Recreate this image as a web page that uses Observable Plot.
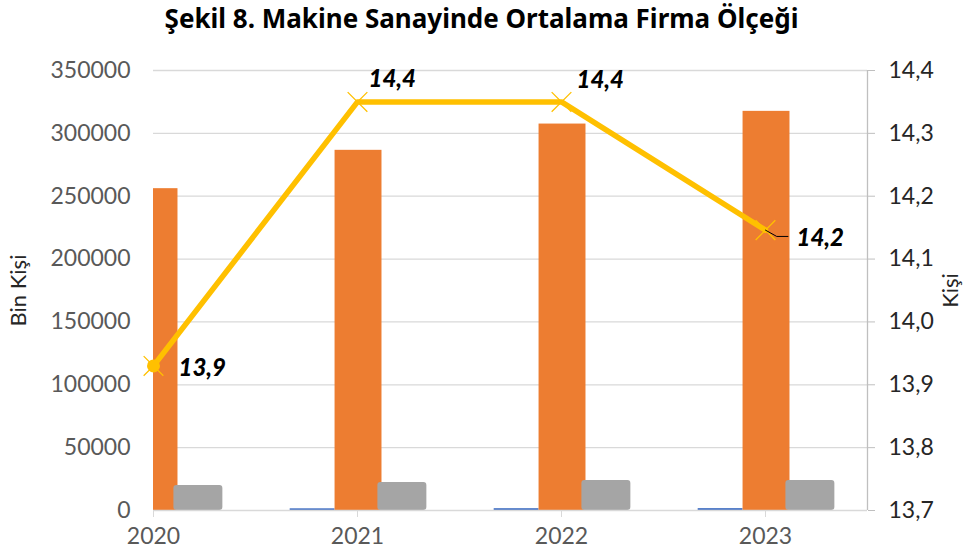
<!DOCTYPE html>
<html><head><meta charset="utf-8">
<script src="https://cdn.jsdelivr.net/npm/d3@7"></script>
<script src="https://cdn.jsdelivr.net/npm/@observablehq/plot@0.6"></script>
<style>
body{margin:0;background:#fff;font-family:Lato,sans-serif;}
#title{height:40px;line-height:36px;text-align:center;font-family:"Noto Sans",sans-serif;font-weight:bold;font-size:26px;color:#000;white-space:nowrap;}
</style></head><body>
<div id="title">Şekil 8. Makine Sanayinde Ortalama Firma Ölçeği</div>
<div id="chart"></div>
<script>
// ---- data ----
const years = [2020, 2021, 2022, 2023];
const blueValues = [1200, 1350, 1450, 1500];
const orangeValues = [256000, 286500, 307400, 317500];
const grayValues = [19800, 22200, 23800, 23800];
const avgSize = [13.93, 14.35, 14.35, 14.146];
const avgLabels = ["13,9", "14,4", "14,4", "14,2"];
const leftTicks = [0, 50000, 100000, 150000, 200000, 250000, 300000, 350000];
const rightTicks = [13.7, 13.8, 13.9, 14.0, 14.1, 14.2, 14.3, 14.4];
const leftTitle = "Bin Kişi";
const rightTitle = "Kişi";

// ---- layout ----
const R0 = 13.7, R1 = 14.4, LMAX = 350000;
const toLeft = v => (v - R0) / (R1 - R0) * LMAX;
const fromLeft = d => R0 + d / LMAX * (R1 - R0);
const barSlots = [[-0.33, -0.11], [-0.11, 0.12], [0.1, 0.34]];
const labelOffsets = [[25, 2], [11, -23], [15, -22], [31, 8]];

const rows = years.map((y, i) => ({year: y, blue: blueValues[i], orange: orangeValues[i], gray: grayValues[i], v: avgSize[i], label: avgLabels[i]}));

const barMark = (key, slot, fill, extra = {}) => Plot.rectY(rows, {
  x1: d => d.year + barSlots[slot][0], x2: d => d.year + barSlots[slot][1],
  y1: 0, y2: d => d[key], fill, clip: true, ...extra
});

const last = rows[3];
const leader = [
  {x: last.year, y: toLeft(last.v)},
  {x: last.year + 0.055, y: toLeft(last.v - 0.01)},
  {x: last.year + 0.11, y: toLeft(last.v - 0.01)}
];

const marks = [
  Plot.ruleY(leftTicks.slice(1), {stroke: "#d9d9d9", strokeWidth: 1.3}),
  barMark("blue", 0, "#4472C4"),
  barMark("orange", 1, "#ED7D31"),
  barMark("gray", 2, "#A5A5A5", {rx: 3}),
  Plot.ruleY([0], {stroke: "#d9d9d9", strokeWidth: 1.6}),
  Plot.ruleX([2023.5], {y1: 0, y2: LMAX, stroke: "#bfbfbf", strokeWidth: 1.3}),
  Plot.axisX({ticks: years, tickFormat: d => String(d), tickSize: 7, tickPadding: 10, stroke: "#d9d9d9", fill: "#595959", fontSize: 23, label: null}),
  Plot.axisY({anchor: "left", ticks: leftTicks, tickFormat: d3.format("d"), tickSize: 0, tickPadding: 23, fill: "#595959", fontSize: 23, label: null}),
  Plot.axisY({anchor: "right", ticks: rightTicks.map(toLeft), tickFormat: d => fromLeft(d).toFixed(1).replace(".", ","), tickSize: 7, tickPadding: 14, stroke: "#bfbfbf", fill: "#262626", fontSize: 23, label: null}),
  Plot.text([leftTitle], {frameAnchor: "left", dx: -135, rotate: -90, textAnchor: "middle", fontSize: 22, fill: "#262626"}),
  Plot.text([rightTitle], {frameAnchor: "right", dx: 83, rotate: -90, textAnchor: "middle", fontSize: 22, fill: "#262626"}),
  Plot.line(rows, {x: "year", y: d => toLeft(d.v), stroke: "#FFC000", strokeWidth: 5.5}),
  Plot.dot(rows.slice(0, 1), {x: "year", y: d => toLeft(d.v), r: 6.5, fill: "#FFC000"}),
  Plot.dot(rows, {x: "year", y: d => toLeft(d.v), symbol: "times", r: 9, stroke: "#FFC000", strokeWidth: 1.3}),
  Plot.line(leader, {x: "x", y: "y", stroke: "#000", strokeWidth: 1})
];
rows.forEach((d, i) => {
  marks.push(Plot.text([d], {x: "year", y: r => toLeft(r.v), text: "label", dx: labelOffsets[i][0], dy: labelOffsets[i][1], textAnchor: "start", fontSize: 24, fontWeight: 900, fontStyle: "italic", fill: "#000"}));
});

const chart = Plot.plot({
  width: 963, height: 513,
  marginLeft: 153, marginRight: 96, marginTop: 30, marginBottom: 43,
  style: {fontFamily: "Lato, sans-serif", background: "#fff"},
  x: {type: "linear", domain: [2020, 2023.5]},
  y: {domain: [0, LMAX]},
  marks
});
document.getElementById("chart").appendChild(chart);
</script>
</body></html>
